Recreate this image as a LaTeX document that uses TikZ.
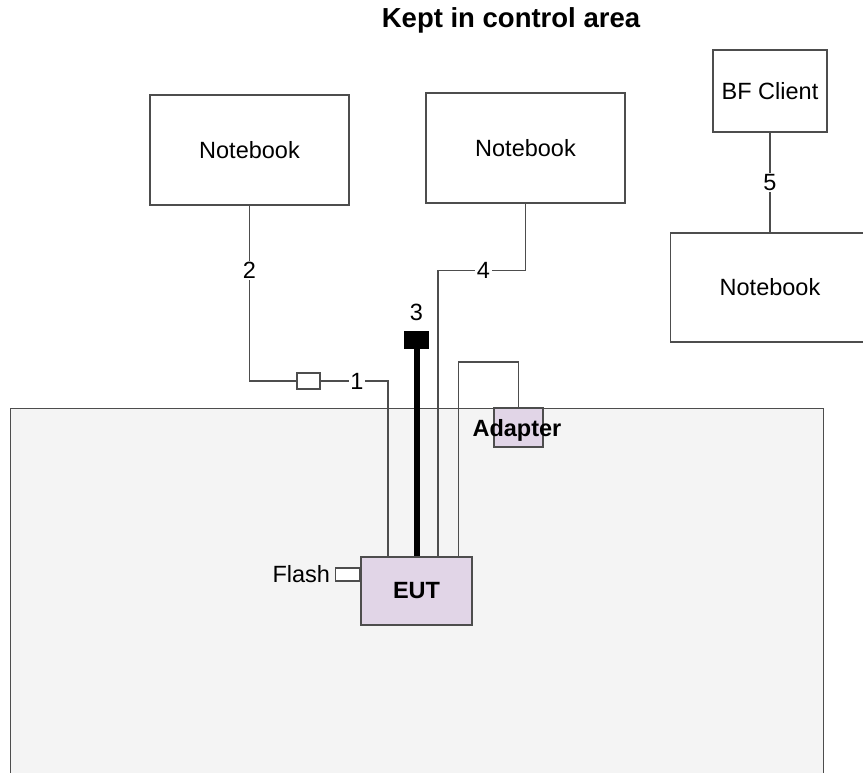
\documentclass[tikz,border=0pt]{standalone}
\usepackage{fontspec}
\setmainfont{Liberation Sans}
\usepackage{tikz}
\usepackage{xcolor}
\definecolor{wire}{HTML}{4D4D4D}
\definecolor{zone}{HTML}{F4F4F4}
\definecolor{lilac}{HTML}{E1D5E7}
\newcommand{\labfont}{\fontsize{23.5pt}{26pt}\selectfont}

\begin{document}
\begin{tikzpicture}[x=1pt, y=-1pt, line width=1.3pt,
    box/.style={draw=wire, fill=white, inner sep=0pt, font=\labfont},
    tag/.style={fill=white, text=black, inner sep=1.5pt, font=\labfont}]
    \useasboundingbox (0,0) rectangle (863,773);
    \node[font=\fontsize{27.5pt}{29pt}\selectfont\bfseries] (title) at (511,20) {Kept in control area};
    % control area
    \node[draw=wire, fill=zone, minimum width=813pt, minimum height=400pt, anchor=north west] (area) at (10,408) {};
    \node[box, minimum width=199pt, minimum height=110pt] (nb1) at (249.5,150) {Notebook};
    \node[box, minimum width=199pt, minimum height=110pt] (nb2) at (525.5,148) {Notebook};
    \node[box, minimum width=114pt, minimum height=82pt] (bf) at (770,91) {BF Client};
    \node[box, minimum width=199pt, minimum height=109pt] (nb3) at (770,287.5) {Notebook};
    \node[box, fill=lilac, minimum width=111pt, minimum height=68pt, font=\labfont\bfseries] (eut) at (416.5,591) {EUT};
    \node[box, minimum width=24pt, minimum height=13pt, anchor=east] (flash) at ([yshift=16.5pt]eut.west) {};
    \node[font=\labfont, anchor=east] (flashlab) at ([xshift=-1pt]flash.west) {Flash};
    \node[box, fill=lilac, minimum width=49pt, minimum height=39pt] (adp) at (518.5,427.5) {};
    \node[box, minimum width=23pt, minimum height=16pt] (plug1) at (308.5,381) {};
    \node[draw=black, fill=black, inner sep=0pt, minimum width=24pt, minimum height=16pt] (plug3) at (416.5,340) {};
    \node[font=\labfont] (n3) at (416.5,312) {3};
    \coordinate (in1) at ([xshift=-28.5pt]eut.north);
    \coordinate (in4) at ([xshift=21.5pt]eut.north);
    \coordinate (inA) at ([xshift=42pt]eut.north);
    % cables
    \draw[wire] (nb1.south) |- node[tag, pos=0.185] {2} (plug1.west);
    \draw[wire] (plug1.east) -| node[tag, pos=0.27] {1} (in1);
    \draw[line width=6pt] (plug3.south) -- (eut.north);
    \draw[wire] (nb2.south) -- ++(0,67) -| node[tag, pos=0.24] {4} (in4);
    \draw[wire] (inA) |- ([yshift=45.5pt]adp.north) -- (adp.north);
    \draw[wire] (bf) -- node[tag] {5} (nb3);
    \node[font=\labfont\bfseries] (adplab) at (517,430) {Adapter};
\end{tikzpicture}
\end{document}
